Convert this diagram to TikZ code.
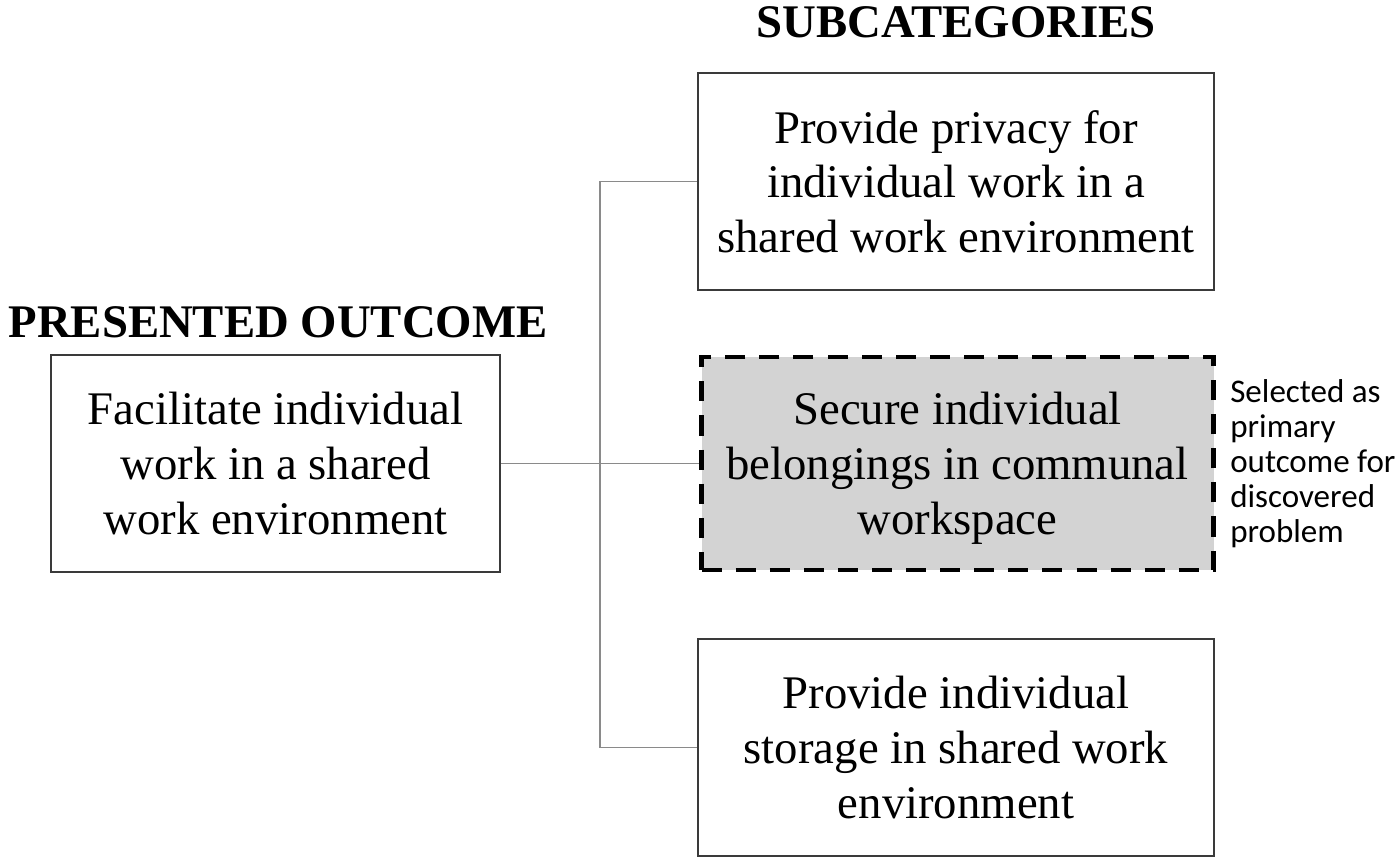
\documentclass[tikz,border=0pt]{standalone}
\usepackage{fontspec}
\setmainfont{Liberation Serif}
\newfontfamily\notefont{Carlito}
\usepackage{tikz}
\usetikzlibrary{positioning}
\usepackage{xcolor}
\definecolor{edge}{HTML}{3A3A3A}
\definecolor{wire}{HTML}{8A8A8A}
\definecolor{pick}{HTML}{D3D3D3}

\begin{document}
\begin{tikzpicture}[
            node distance=0.66cm,
            box/.style={draw=edge, line width=0.6pt, fill=white,
                        minimum width=5.16cm, minimum height=2.17cm,
                        inner sep=0pt, align=center, text depth=0pt,
                        font=\fontsize{13.3}{15.6}\selectfont},
            chosen/.style={box, draw=black, fill=pick, line width=1.2pt,
                           minimum width=5.12cm, minimum height=2.13cm,
                           dash pattern=on 5.7pt off 4pt},
            head/.style={anchor=base, inner sep=0pt,
                         font=\fontsize{13.3}{15.6}\selectfont\bfseries},
            link/.style={draw=wire, line width=0.45pt}
          ]
          \useasboundingbox (0,0) rectangle (14,8.63);
          \node[box, minimum width=4.49cm] (out) at (2.755,3.995)
            {Facilitate individual\\work in a shared\\work environment};
          \node[box] (priv) at (9.56,6.815)
            {Provide privacy for\\individual work in a\\shared work environment};
          \node[chosen] (secure) at (9.575,3.995)
            {Secure individual\\belongings in communal\\workspace};
          \node[box] (stor) at (9.56,1.155)
            {Provide individual\\storage in shared work\\environment};
          \node[head] (subhead) at (9.56,8.25) {SUBCATEGORIES};
          \node[head] (outhead) at (2.78,5.25) {PRESENTED OUTCOME};
          \node[inner sep=0pt, align=left,
                font=\notefont\fontsize{9.4}{10}\selectfont,
                right=0.14cm of secure] (note)
            {Selected as\\primary\\outcome for\\discovered\\problem};
          \coordinate (spine) at (6.0,0);
          \draw[link] (out.east) -- (secure.west);
          \draw[link] (priv.west) -- (priv.west -| spine)
                      -- (stor.west -| spine) -- (stor.west);
        \end{tikzpicture}
\end{document}
